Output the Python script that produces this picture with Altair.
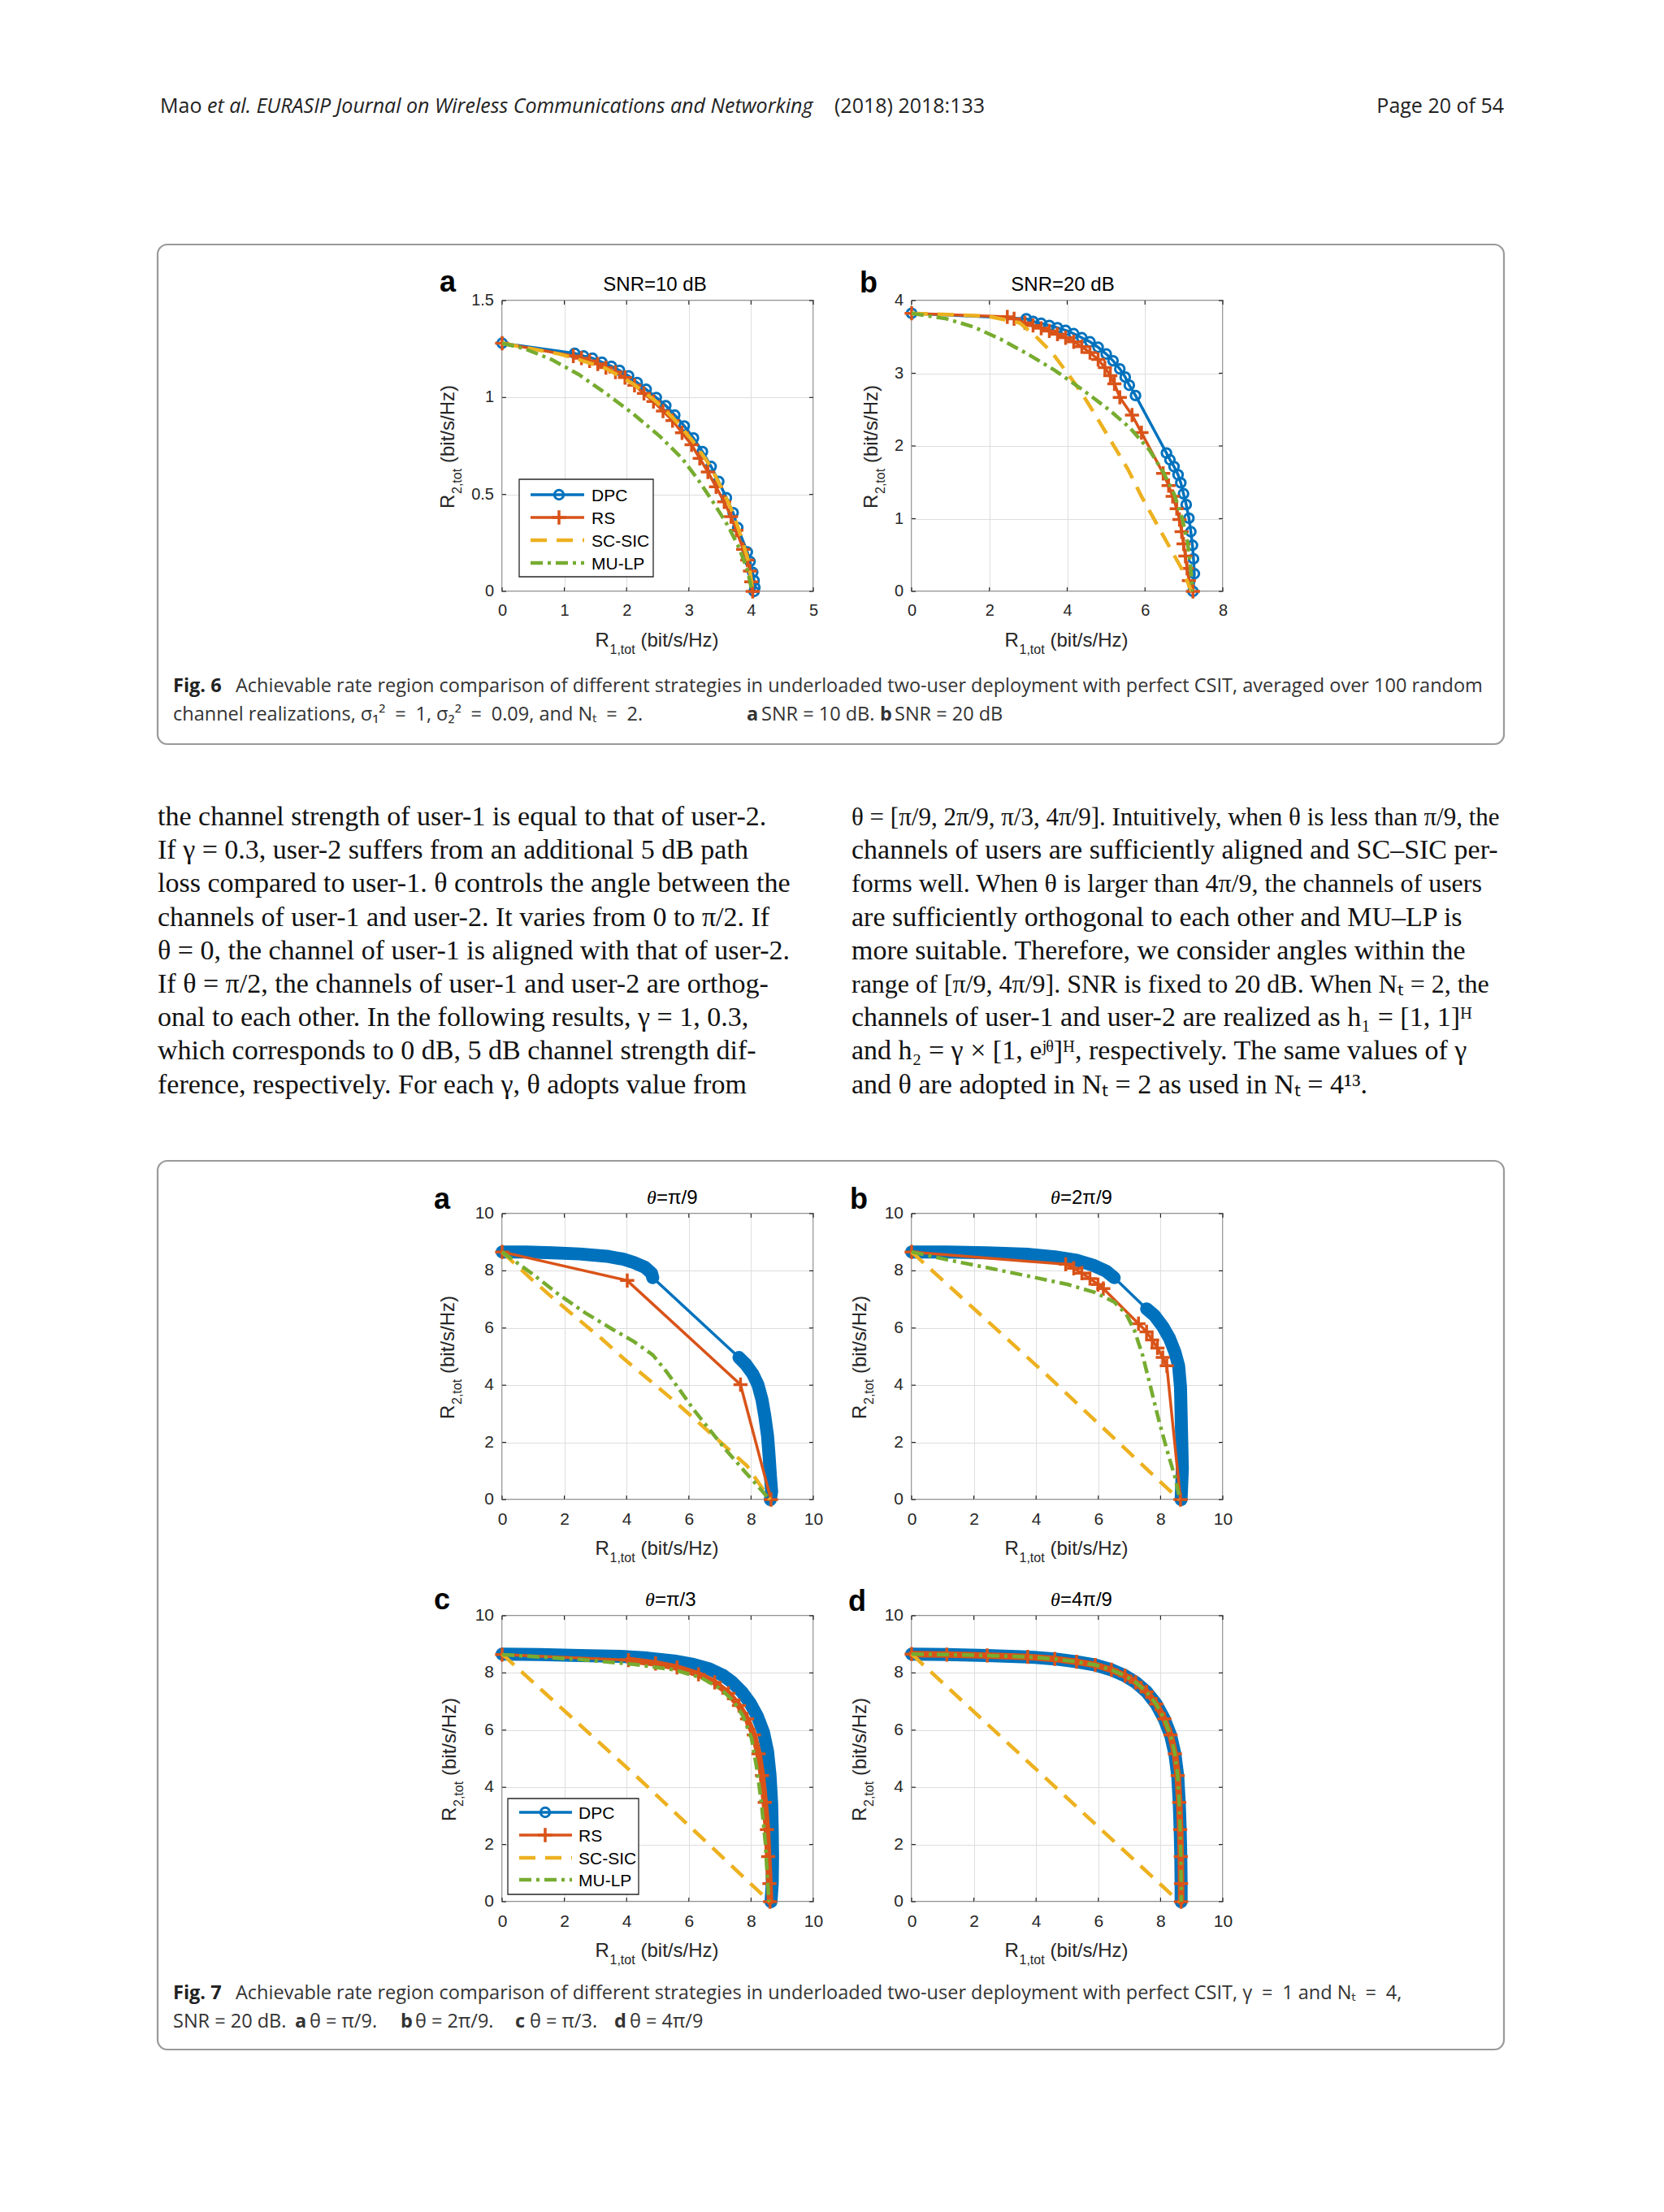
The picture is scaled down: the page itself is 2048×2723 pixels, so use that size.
import altair as alt
import pandas as pd

# ---------------- page text ----------------
HEADER_PLAIN = "Mao"
HEADER_ITALIC = "et al. EURASIP Journal on Wireless Communications and Networking"
HEADER_YEAR = "(2018) 2018:133"
HEADER_PAGE = "Page 20 of 54"

CAP6_BOLD = "Fig. 6"
CAP6_L1 = ("Achievable rate region comparison of different strategies in underloaded two-user "
           "deployment with perfect CSIT, averaged over 100 random")
CAP6_L2 = ["channel realizations, σ₁²\u2002=\u20021, σ₂²\u2002=\u20020.09, and Nₜ\u2002=\u20022.",
           "a", "SNR = 10 dB.", "b", "SNR = 20 dB"]
CAP7_BOLD = "Fig. 7"
CAP7_L1 = ("Achievable rate region comparison of different strategies in underloaded two-user "
           "deployment with perfect CSIT, γ\u2002=\u20021 and Nₜ\u2002=\u20024,")
CAP7_L2 = ["SNR = 20 dB.", "a", "θ = π/9.", "b", "θ = 2π/9.", "c", "θ = π/3.", "d", "θ = 4π/9"]

BODY_LEFT = [
    "the channel strength of user-1 is equal to that of user-2.",
    "If γ = 0.3, user-2 suffers from an additional 5 dB path",
    "loss compared to user-1. θ controls the angle between the",
    "channels of user-1 and user-2. It varies from 0 to π/2. If",
    "θ = 0, the channel of user-1 is aligned with that of user-2.",
    "If θ = π/2, the channels of user-1 and user-2 are orthog-",
    "onal to each other. In the following results, γ = 1, 0.3,",
    "which corresponds to 0 dB, 5 dB channel strength dif-",
    "ference, respectively. For each γ, θ adopts value from",
]
BODY_RIGHT = [
    "θ = [π/9, 2π/9, π/3, 4π/9]. Intuitively, when θ is less than π/9, the",
    "channels of users are sufficiently aligned and SC–SIC per-",
    "forms well. When θ is larger than 4π/9, the channels of users",
    "are sufficiently orthogonal to each other and MU–LP is",
    "more suitable. Therefore, we consider angles within the",
    "range of [π/9, 4π/9]. SNR is fixed to 20 dB. When Nₜ = 2, the",
    "channels of user-1 and user-2 are realized as h₁ = [1, 1]ᴴ",
    "and h₂ = γ × [1, eʲᶿ]ᴴ, respectively. The same values of γ",
    "and θ are adopted in Nₜ = 2 as used in Nₜ = 4¹³.",
]
BODY_RIGHT_SIZE = [31, 34, 32, 34, 34, 32, 34, 34, 34]

# ---------------- chart text ----------------
SERIES = ["DPC", "RS", "SC-SIC", "MU-LP"]
F6_TITLES = ["SNR=10 dB", "SNR=20 dB"]
F7_TITLES = ["=π/9", "=2π/9", "=π/3", "=4π/9"]
PANEL_LETTERS = ["a", "b", "c", "d"]
AXIS_R = "R"
AXIS_UNIT = "(bit/s/Hz)"
X_SUB = "1,tot"
Y_SUB = "2,tot"

# ---------------- ticks ----------------
F6A_XT = [0, 1, 2, 3, 4, 5]
F6A_YT = [0, 0.5, 1, 1.5]
F6A_YL = ["0", "0.5", "1", "1.5"]
F6B_XT = [0, 2, 4, 6, 8]
F6B_YT = [0, 1, 2, 3, 4]
F6B_YL = ["0", "1", "2", "3", "4"]
F7_XT = [0, 2, 4, 6, 8, 10]
F7_YT = [0, 2, 4, 6, 8, 10]
F7_YL = ["0", "2", "4", "6", "8", "10"]

# ---------------- Fig 6a (SNR = 10 dB) ----------------
F6A_DPC_X = [0, 1.166, 1.31, 1.45, 1.603, 1.755, 1.886, 2.031, 2.170, 2.314, 2.476, 2.629, 2.773, 2.926,
             3.074, 3.218, 3.358, 3.480, 3.603, 3.712, 3.786, 3.939, 3.983, 4.026, 4.048, 4.061, 4.048]
F6A_DPC_Y = [1.280, 1.228, 1.214, 1.203, 1.182, 1.161, 1.140, 1.112, 1.077, 1.042, 1.0, 0.958, 0.909, 0.853,
             0.791, 0.721, 0.644, 0.567, 0.483, 0.406, 0.329, 0.203, 0.154, 0.098, 0.056, 0.021, 0.0]
F6A_RS_X = [0, 1.144, 1.275, 1.406, 1.537, 1.668, 1.821, 1.974, 2.127, 2.279, 2.432, 2.585, 2.738,
            2.891, 3.044, 3.175, 3.306, 3.437, 3.568, 3.677, 3.764, 3.873, 3.939, 3.983, 4.004, 4.026]
F6A_RS_Y = [1.280, 1.214, 1.203, 1.189, 1.173, 1.154, 1.131, 1.103, 1.063, 1.021, 0.979, 0.930, 0.881,
            0.818, 0.756, 0.686, 0.616, 0.539, 0.462, 0.385, 0.315, 0.217, 0.161, 0.105, 0.049, 0.0]
F6A_SC_X = [0, 0.926, 1.231, 1.668, 2.105, 2.454, 2.760, 3.066, 3.328, 3.546, 3.721, 3.852, 3.961, 4.026]
F6A_SC_Y = [1.280, 1.224, 1.196, 1.150, 1.070, 0.985, 0.890, 0.775, 0.655, 0.520, 0.395, 0.270, 0.150, 0.0]
F6A_MU_X = [0, 0.358, 0.795, 1.231, 1.668, 2.105, 2.541, 2.891, 3.153, 3.415, 3.633, 3.808, 3.939, 4.017]
F6A_MU_Y = [1.280, 1.252, 1.196, 1.119, 1.021, 0.916, 0.798, 0.686, 0.574, 0.448, 0.336, 0.224, 0.112, 0.0]

# ---------------- Fig 6b (SNR = 20 dB) ----------------
F6B_DPC_X = [0, 2.948, 3.122, 3.331, 3.540, 3.749, 3.958, 4.167, 4.376, 4.585, 4.794, 5.003, 5.178, 5.352,
             5.491, 5.596, 5.756, 6.551, 6.641, 6.746, 6.850, 6.920, 6.990, 7.059, 7.129, 7.178, 7.220,
             7.247, 7.268, 7.233]
F6B_DPC_Y = [3.825, 3.750, 3.713, 3.687, 3.657, 3.627, 3.590, 3.545, 3.489, 3.433, 3.358, 3.265, 3.172, 3.060,
             2.948, 2.836, 2.694, 1.903, 1.810, 1.716, 1.604, 1.493, 1.343, 1.194, 1.007, 0.821, 0.634,
             0.448, 0.243, 0.0]
F6B_RS_X = [0, 2.460, 2.634, 2.913, 3.122, 3.331, 3.540, 3.749, 3.958, 4.167, 4.376, 4.585, 4.794, 4.969,
            5.108, 5.213, 5.352, 5.666, 5.909, 6.467, 6.606, 6.711, 6.815, 6.885, 6.941, 6.990, 7.038,
            7.080, 7.129, 7.233]
F6B_RS_Y = [3.825, 3.776, 3.750, 3.694, 3.657, 3.619, 3.582, 3.537, 3.489, 3.433, 3.366, 3.284, 3.190, 3.078,
            2.966, 2.854, 2.668, 2.425, 2.183, 1.623, 1.455, 1.306, 1.138, 0.989, 0.821, 0.653, 0.485,
            0.317, 0.149, 0.0]
F6B_SC_X = [0, 1.937, 2.774, 3.192, 3.610, 4.028, 4.376, 4.725, 5.143, 5.561, 5.909, 6.258, 6.606, 6.955, 7.199]
F6B_SC_Y = [3.825, 3.787, 3.694, 3.507, 3.284, 2.985, 2.724, 2.425, 2.052, 1.679, 1.306, 0.970, 0.634, 0.299, 0.0]
F6B_MU_X = [0, 0.892, 1.589, 2.286, 2.983, 3.679, 4.376, 5.073, 5.631, 6.118, 6.467, 6.746, 6.955, 7.094,
            7.164, 7.220]
F6B_MU_Y = [3.825, 3.750, 3.638, 3.470, 3.265, 3.041, 2.780, 2.500, 2.239, 1.940, 1.642, 1.343, 1.007, 0.672,
            0.373, 0.0]

# ---------------- Fig 7a (theta = pi/9) ----------------
F7A_DPC_X = [0, 0.76, 1.63, 2.49, 3.36, 3.88, 4.23, 4.58, 4.80, 4.84,
             7.61, 7.83, 8.05, 8.22, 8.35, 8.44, 8.53, 8.58, 8.62, 8.66, 8.62]
F7A_DPC_Y = [8.66, 8.66, 8.63, 8.59, 8.51, 8.41, 8.29, 8.13, 7.92, 7.76,
             4.97, 4.73, 4.40, 4.02, 3.50, 2.93, 2.22, 1.51, 0.85, 0.28, 0.0]
F7A_DPC_SEG = [1, 1, 1, 1, 1, 1, 1, 1, 1, 1, 2, 2, 2, 2, 2, 2, 2, 2, 2, 2, 2]
F7A_RS_X = [0, 4.02, 7.66, 8.64]
F7A_RS_Y = [8.66, 7.66, 4.02, 0.0]
F7A_SC_X = [0, 0.94, 1.63, 2.41, 3.19, 3.97, 4.75, 5.53, 6.31, 7.09, 7.87, 8.61]
F7A_SC_Y = [8.66, 7.71, 7.05, 6.34, 5.63, 4.87, 4.16, 3.45, 2.70, 1.94, 1.18, 0.0]
F7A_MU_X = [0, 0.94, 1.80, 2.67, 3.54, 4.23, 4.84, 5.27, 5.71, 6.14, 6.62, 7.18, 7.79, 8.60]
F7A_MU_Y = [8.66, 7.92, 7.19, 6.53, 5.96, 5.53, 5.06, 4.49, 3.83, 3.17, 2.51, 1.75, 0.99, 0.0]

# ---------------- Fig 7b (theta = 2pi/9) ----------------
F7B_DPC_X = [0, 1.13, 2.43, 3.73, 4.60, 5.30, 5.82, 6.25, 6.51,
             7.55, 7.81, 8.07, 8.29, 8.46, 8.58, 8.64, 8.66, 8.68, 8.70, 8.66]
F7B_DPC_Y = [8.66, 8.66, 8.63, 8.58, 8.49, 8.37, 8.20, 7.99, 7.76,
             6.67, 6.43, 6.05, 5.63, 5.16, 4.68, 3.93, 2.98, 2.03, 1.09, 0.0]
F7B_DPC_SEG = [1, 1, 1, 1, 1, 1, 1, 1, 1, 2, 2, 2, 2, 2, 2, 2, 2, 2, 2, 2]
F7B_RS_X = [0, 4.95, 5.21, 5.47, 5.73, 5.99, 6.16, 7.29, 7.55, 7.73, 7.90, 8.07, 8.20, 8.64]
F7B_RS_Y = [8.66, 8.23, 8.09, 7.92, 7.73, 7.52, 7.38, 6.15, 5.87, 5.58, 5.30, 4.97, 4.68, 0.0]
F7B_SC_X = [0, 4.34, 8.60]
F7B_SC_Y = [8.66, 4.36, 0.0]
F7B_MU_X = [0, 1.13, 2.43, 3.73, 5.03, 5.90, 6.51, 6.90, 7.16, 7.42, 7.68, 7.94, 8.20, 8.46, 8.62]
F7B_MU_Y = [8.66, 8.39, 8.11, 7.82, 7.52, 7.24, 6.91, 6.48, 5.91, 5.06, 3.93, 2.79, 1.75, 0.80, 0.0]

# ---------------- Fig 7c (theta = pi/3) ----------------
F7C_DPC_X = [0, 1.20, 2.50, 3.80, 4.67, 5.53, 6.14, 6.66, 7.09, 7.40, 7.70, 7.96, 8.20, 8.40, 8.53,
             8.61, 8.66, 8.68, 8.69, 8.68, 8.64]
F7C_DPC_Y = [8.66, 8.64, 8.61, 8.58, 8.52, 8.42, 8.30, 8.14, 7.92, 7.67, 7.34, 6.96, 6.49, 5.92, 5.26,
             4.41, 3.47, 2.52, 1.58, 0.63, 0.0]
F7C_DPC_SEG = [1, 1, 1, 1, 1, 1, 1, 1, 1, 1, 1, 1, 1, 1, 1, 1, 1, 1, 1, 1, 1]
F7C_RS_X = [0, 4.06, 4.93, 5.62, 6.31, 6.83, 7.27, 7.61, 7.87, 8.09, 8.24, 8.35, 8.44, 8.51, 8.55, 8.59, 8.61]
F7C_RS_Y = [8.64, 8.45, 8.33, 8.19, 7.95, 7.67, 7.29, 6.86, 6.39, 5.83, 5.17, 4.41, 3.47, 2.52, 1.58, 0.63, 0.0]
F7C_RS_SEG = [0, 1, 1, 1, 1, 1, 1, 1, 1, 1, 1, 1, 1, 1, 1, 1, 1]
F7C_SC_X = [0, 4.30, 8.60]
F7C_SC_Y = [8.66, 4.40, 0.0]
F7C_MU_X = [0, 2.50, 4.23, 5.53, 6.40, 7.01, 7.44, 7.74, 8.01, 8.18, 8.33, 8.46, 8.57]
F7C_MU_Y = [8.64, 8.47, 8.30, 8.11, 7.83, 7.45, 7.01, 6.49, 5.73, 4.69, 3.47, 2.05, 0.0]

# ---------------- Fig 7d (theta = 4pi/9) ----------------
F7D_DPC_X = [0, 1.13, 2.43, 3.73, 4.60, 5.30, 5.90, 6.42, 6.86, 7.20, 7.55, 7.86, 8.12, 8.32, 8.46,
             8.55, 8.60, 8.63, 8.65, 8.66, 8.66]
F7D_DPC_Y = [8.66, 8.64, 8.61, 8.56, 8.49, 8.39, 8.28, 8.11, 7.90, 7.67, 7.34, 6.91, 6.39, 5.83, 5.17,
             4.41, 3.47, 2.52, 1.58, 0.63, 0.0]
F7D_DPC_SEG = [1, 1, 1, 1, 1, 1, 1, 1, 1, 1, 1, 1, 1, 1, 1, 1, 1, 1, 1, 1, 1]
F7D_RS_X = [0, 1.13, 2.43, 3.73, 4.60, 5.30, 5.90, 6.42, 6.86, 7.20, 7.55, 7.86, 8.12, 8.32, 8.46,
            8.55, 8.60, 8.63, 8.65, 8.66, 8.66]
F7D_RS_Y = [8.66, 8.64, 8.61, 8.56, 8.49, 8.39, 8.28, 8.11, 7.90, 7.67, 7.34, 6.91, 6.39, 5.83, 5.17,
            4.41, 3.47, 2.52, 1.58, 0.63, 0.0]
F7D_RS_SEG = [1, 1, 1, 1, 1, 1, 1, 1, 1, 1, 1, 1, 1, 1, 1, 1, 1, 1, 1, 1, 1]
F7D_SC_X = [0, 3.99, 8.60]
F7D_SC_Y = [8.66, 4.64, 0.0]
F7D_MU_X = [0, 1.13, 2.43, 3.73, 4.60, 5.30, 5.90, 6.42, 6.86, 7.20, 7.55, 7.86, 8.12, 8.32, 8.46,
            8.55, 8.60, 8.63, 8.65, 8.66, 8.66]
F7D_MU_Y = [8.66, 8.64, 8.61, 8.56, 8.49, 8.39, 8.28, 8.11, 7.90, 7.67, 7.34, 6.91, 6.39, 5.83, 5.17,
            4.41, 3.47, 2.52, 1.58, 0.63, 0.0]

# ---------------- style ----------------
BLUE, ORANGE, YELLOW, GREEN = "#0072BD", "#D95319", "#EDB120", "#77AC30"
COLORS = [BLUE, ORANGE, YELLOW, GREEN]
DASH_SC = [20, 12]
DASH_MU = [15, 6, 4, 6]
INK = "#262626"
GRID = "#dedede"
SANS = "Liberation Sans"
SERIF = "Liberation Serif"
CAPF = "Open Sans"
CROSS = "M-1,0L1,0M0,-1L0,1"
W = 383
H6 = 358
H7 = 352
LAB = 24      # axis label size
TIT = 24      # title size
CAPS = 23.5   # caption size
CIRC = 130    # circle marker area
CIRC_SW = 3
CROSS_SZ = 300
CROSS_SW = 3.5
LW = 3.5

ONE = pd.DataFrame({"k": [0]})


def T(s, x, y, size, font=SANS, weight="normal", style="normal", align="left", angle=0, color="#000000"):
    kw = dict(text=s, font=font, fontSize=size, fontWeight=weight, fontStyle=style,
              align=align, baseline="alphabetic", color=color)
    if angle:
        kw["angle"] = angle
    return alt.Chart(ONE).mark_text(**kw).encode(x=alt.value(x), y=alt.value(y))


def RECT(x1, y1, x2, y2, fill="transparent", stroke=None, sw=1.0, radius=0):
    kw = dict(fill=fill)
    if stroke:
        kw.update(stroke=stroke, strokeWidth=sw)
    if radius:
        kw["cornerRadius"] = radius
    return alt.Chart(ONE).mark_rect(**kw).encode(
        x=alt.value(x1), x2=alt.value(x2), y=alt.value(y1), y2=alt.value(y2))


def HLINE(x1, x2, y, color, sw, dash=None):
    kw = dict(color=color, strokeWidth=sw)
    if dash:
        kw["strokeDash"] = dash
    return alt.Chart(ONE).mark_rule(**kw).encode(x=alt.value(x1), x2=alt.value(x2), y=alt.value(y))


def MARK(x, y, shape, color, size, sw):
    return alt.Chart(ONE).mark_point(shape=shape, filled=False, color=color, size=size,
                                     strokeWidth=sw, opacity=1).encode(x=alt.value(x), y=alt.value(y))


def frame(xs, ys, seg=None):
    d = pd.DataFrame({"x": xs, "y": ys})
    d["i"] = list(range(len(xs)))
    if seg is not None:
        d["seg"] = seg
    return d


def curves(xdom, ydom, xt, yt, yl, tsize, h, dpc, rs, sc, mu, seg=None, rs_seg=None):
    X = alt.X("x:Q", title=None, scale=alt.Scale(domain=xdom, nice=False, zero=False),
              axis=alt.Axis(values=xt, format="~f", grid=True, gridColor=GRID, gridWidth=1,
                            domain=False, ticks=False, tickSize=0, labelFont=SANS, labelAngle=0,
                            labelFontSize=tsize, labelColor=INK, labelPadding=13,
                            labelFlush=False, labelOverlap=False, labelBaseline="top"))
    Y = alt.Y("y:Q", title=None, scale=alt.Scale(domain=ydom, nice=False, zero=False),
              axis=alt.Axis(values=yt, grid=True, gridColor=GRID, gridWidth=1,
                            domain=False, ticks=False, tickSize=0, labels=False))
    O = alt.Order("i:Q")
    out = []
    # y tick labels, placed through the y scale
    dyl = pd.DataFrame({"y": yt, "lab": yl})
    out.append(alt.Chart(dyl).mark_text(align="right", baseline="middle", font=SANS, fontSize=tsize,
                                        color=INK).encode(Y, x=alt.value(-10), text="lab:N"))
    # MATLAB-style inward tick marks on all four sides
    dxt = pd.DataFrame({"x": xt})
    dyt = pd.DataFrame({"y": yt})
    out.append(alt.Chart(dxt).mark_rule(color=INK, strokeWidth=1.2).encode(
        X, y=alt.value(h), y2=alt.value(h - 5)))
    out.append(alt.Chart(dxt).mark_rule(color=INK, strokeWidth=1.2).encode(
        X, y=alt.value(0), y2=alt.value(5)))
    out.append(alt.Chart(dyt).mark_rule(color=INK, strokeWidth=1.2).encode(
        Y, x=alt.value(0), x2=alt.value(5)))
    out.append(alt.Chart(dyt).mark_rule(color=INK, strokeWidth=1.2).encode(
        Y, x=alt.value(W - 5), x2=alt.value(W)))

    dd = frame(dpc[0], dpc[1], seg)
    if seg is not None:
        out.append(alt.Chart(dd).mark_line(color=BLUE, strokeWidth=16, strokeCap="round",
                                           strokeJoin="round").encode(X, Y, O, detail="seg:N"))
    out.append(alt.Chart(dd).mark_line(color=BLUE, strokeWidth=LW).encode(X, Y, O))
    out.append(alt.Chart(dd).mark_point(shape="circle", filled=False, size=CIRC, strokeWidth=CIRC_SW,
                                        color=BLUE, opacity=1).encode(X, Y))
    dr = frame(rs[0], rs[1], rs_seg)
    if rs_seg is not None:
        out.append(alt.Chart(dr).transform_filter("datum.seg == 1").mark_line(
            color=ORANGE, strokeWidth=8, strokeCap="round", strokeJoin="round").encode(X, Y, O))
    out.append(alt.Chart(dr).mark_line(color=ORANGE, strokeWidth=LW).encode(X, Y, O))
    out.append(alt.Chart(dr).mark_point(shape=CROSS, filled=False, size=CROSS_SZ, strokeWidth=CROSS_SW,
                                        color=ORANGE, opacity=1).encode(X, Y))
    out.append(alt.Chart(frame(sc[0], sc[1])).mark_line(color=YELLOW, strokeWidth=4.5,
                                                        strokeDash=DASH_SC).encode(X, Y, O))
    out.append(alt.Chart(frame(mu[0], mu[1])).mark_line(color=GREEN, strokeWidth=4.5,
                                                        strokeDash=DASH_MU).encode(X, Y, O))
    return out


def axis_titles(h, ylab_x):
    cx = W / 2.0
    cy = h / 2.0
    return [
        T(AXIS_R, cx - 77, h + 68, LAB, color=INK),
        T(X_SUB, cx - 59, h + 77, 16, color=INK),
        T(AXIS_UNIT, cx - 21, h + 68, LAB, color=INK),
        T(AXIS_R, ylab_x, cy + 77, LAB, angle=270, color=INK),
        T(Y_SUB, ylab_x + 9, cy + 59, 16, angle=270, color=INK),
        T(AXIS_UNIT, ylab_x, cy + 21, LAB, angle=270, color=INK),
    ]


def legend(box, rows, lx, mx, tx, fsize=21):
    out = [RECT(box[0], box[1], box[2], box[3], fill="white", stroke=INK, sw=1.3)]
    dashes = [None, None, DASH_SC, DASH_MU]
    widths = [LW, LW, 4.5, 4.5]
    for k, name in enumerate(SERIES):
        y = rows[k]
        out.append(HLINE(lx[0], lx[1], y, COLORS[k], widths[k], dashes[k]))
        if k == 0:
            out.append(MARK(mx, y, "circle", BLUE, CIRC, CIRC_SW))
        if k == 1:
            out.append(MARK(mx, y, CROSS, ORANGE, CROSS_SZ, CROSS_SW))
        out.append(T(name, tx, y + 7.5, fsize, color="#000000"))
    return out


def f7_title(left, k):
    return [T("θ", left, -12, TIT, font=SERIF, style="italic"),
            T(F7_TITLES[k], left + 12, -12, TIT)]


# ---------------- panels ----------------
p6a = alt.layer(
    *curves([0, 5], [0, 1.5], F6A_XT, F6A_YT, F6A_YL, 20, H6,
            (F6A_DPC_X, F6A_DPC_Y), (F6A_RS_X, F6A_RS_Y), (F6A_SC_X, F6A_SC_Y), (F6A_MU_X, F6A_MU_Y)),
    *legend((21, 220, 186, 340), [239, 267, 295, 323], (35, 101), 70, 110),
    *axis_titles(H6, -59),
    T(PANEL_LETTERS[0], -77, -11, 36, weight="bold"),
    T(F6_TITLES[0], 188, -12, TIT, align="center"),
).properties(width=W, height=H6)

p6b = alt.layer(
    *curves([0, 8], [0, 4], F6B_XT, F6B_YT, F6B_YL, 20, H6,
            (F6B_DPC_X, F6B_DPC_Y), (F6B_RS_X, F6B_RS_Y), (F6B_SC_X, F6B_SC_Y), (F6B_MU_X, F6B_MU_Y)),
    *axis_titles(H6, -42),
    T(PANEL_LETTERS[1], -64, -10, 36, weight="bold"),
    T(F6_TITLES[1], 186, -12, TIT, align="center"),
).properties(width=W, height=H6)

p7a = alt.layer(
    *curves([0, 10], [0, 10], F7_XT, F7_YT, F7_YL, 21, H7,
            (F7A_DPC_X, F7A_DPC_Y), (F7A_RS_X, F7A_RS_Y), (F7A_SC_X, F7A_SC_Y), (F7A_MU_X, F7A_MU_Y),
            seg=F7A_DPC_SEG),
    *axis_titles(H7, -59),
    T(PANEL_LETTERS[0], -84, -6, 36, weight="bold"),
    *f7_title(178, 0),
).properties(width=W, height=H7)

p7b = alt.layer(
    *curves([0, 10], [0, 10], F7_XT, F7_YT, F7_YL, 21, H7,
            (F7B_DPC_X, F7B_DPC_Y), (F7B_RS_X, F7B_RS_Y), (F7B_SC_X, F7B_SC_Y), (F7B_MU_X, F7B_MU_Y),
            seg=F7B_DPC_SEG),
    *axis_titles(H7, -56),
    T(PANEL_LETTERS[1], -76, -6, 36, weight="bold"),
    *f7_title(171, 1),
).properties(width=W, height=H7)

p7c = alt.layer(
    *curves([0, 10], [0, 10], F7_XT, F7_YT, F7_YL, 21, H7,
            (F7C_DPC_X, F7C_DPC_Y), (F7C_RS_X, F7C_RS_Y), (F7C_SC_X, F7C_SC_Y), (F7C_MU_X, F7C_MU_Y),
            seg=F7C_DPC_SEG, rs_seg=F7C_RS_SEG),
    *legend((7, 225, 168, 343), [242, 270, 298, 325], (21, 86), 53, 94),
    *axis_titles(H7, -57),
    T(PANEL_LETTERS[2], -84, -8, 36, weight="bold"),
    *f7_title(176, 2),
).properties(width=W, height=H7)

p7d = alt.layer(
    *curves([0, 10], [0, 10], F7_XT, F7_YT, F7_YL, 21, H7,
            (F7D_DPC_X, F7D_DPC_Y), (F7D_RS_X, F7D_RS_Y), (F7D_SC_X, F7D_SC_Y), (F7D_MU_X, F7D_MU_Y),
            seg=F7D_DPC_SEG, rs_seg=F7D_RS_SEG),
    *axis_titles(H7, -56),
    T(PANEL_LETTERS[3], -78, -6, 36, weight="bold"),
    *f7_title(171, 3),
).properties(width=W, height=H7)

# ---------------- page decorations (spacer cell, origin at page 617, 870) ----------------
OX, OY = 617, 870


def P(x, y):
    return x - OX, y - OY


deco = []
ax1, ay1 = P(8, 8)
ax2, ay2 = P(2030, 2700)
deco.append(RECT(ax1, ay1, ax1 + 1, ay1 + 1, fill="white"))
deco.append(RECT(ax2, ay2, ax2 + 1, ay2 + 1, fill="white"))
# figure boxes
bx1, by1 = P(193, 300)
bx2, by2 = P(1850, 915)
deco.append(RECT(bx1, by1, bx2, by2, fill="transparent", stroke="#9a9a9a", sw=2.2, radius=12))
bx1, by1 = P(193, 1428)
bx2, by2 = P(1850, 2522)
deco.append(RECT(bx1, by1, bx2, by2, fill="transparent", stroke="#9a9a9a", sw=2.2, radius=12))
# header
hx, hy = P(196, 138)
deco.append(T(HEADER_PLAIN, hx, hy, 25, font=CAPF, color="#222222"))
hx, hy = P(254, 138)
deco.append(T(HEADER_ITALIC, hx, hy, 25, font=CAPF, style="italic", color="#222222"))
hx, hy = P(1026, 138)
deco.append(T(HEADER_YEAR, hx, hy, 25, font=CAPF, color="#222222"))
hx, hy = P(1850, 138)
deco.append(T(HEADER_PAGE, hx, hy, 25, font=CAPF, align="right", color="#222222"))
# fig 6 caption
cx, cy = P(212, 851)
deco.append(T(CAP6_BOLD, cx, cy, CAPS, font=CAPF, weight="bold", color="#222222"))
cx, cy = P(289, 851)
deco.append(T(CAP6_L1, cx, cy, CAPS, font=CAPF, color="#333333"))
for seg_text, px, bold in zip(CAP6_L2, [212, 918, 936, 1082, 1100], [0, 1, 0, 1, 0]):
    cx, cy = P(px, 886)
    deco.append(T(seg_text, cx, cy, CAPS, font=CAPF, weight="bold" if bold else "normal", color="#333333"))
# fig 7 caption
cx, cy = P(212, 2460)
deco.append(T(CAP7_BOLD, cx, cy, CAPS, font=CAPF, weight="bold", color="#222222"))
cx, cy = P(289, 2460)
deco.append(T(CAP7_L1, cx, cy, CAPS, font=CAPF, color="#333333"))
for seg_text, px, bold in zip(CAP7_L2, [212, 362, 380, 492, 510, 633, 651, 755, 774],
                              [0, 1, 0, 1, 0, 1, 0, 1, 0]):
    cx, cy = P(px, 2495)
    deco.append(T(seg_text, cx, cy, CAPS, font=CAPF, weight="bold" if bold else "normal", color="#333333"))
# body text
for k, line in enumerate(BODY_LEFT):
    lx, ly = P(193, 1015 + 41.2 * k)
    deco.append(T(line, lx, ly, 34, font=SERIF, color="#111111"))
for k, line in enumerate(BODY_RIGHT):
    lx, ly = P(1047, 1015 + 41.2 * k)
    deco.append(T(line, lx, ly, BODY_RIGHT_SIZE[k], font=SERIF, color="#111111"))

spacer1 = alt.layer(*deco).properties(width=W, height=480,
                                       view=alt.ViewBackground(stroke="transparent"))
spacer2 = alt.Chart(ONE).mark_point(opacity=0).encode(
    x=alt.value(0), y=alt.value(0)).properties(width=W, height=480,
                                               view=alt.ViewBackground(stroke="transparent"))

chart = alt.concat(
    p6a, p6b, spacer1, spacer2, p7a, p7b, p7c, p7d,
    columns=2, spacing={"row": 143, "column": 121}, bounds="flush", align="each",
).properties(padding=0, background="white").configure_view(stroke=INK, strokeWidth=1.3)

chart.save("out.html", embed_options={"renderer": "svg", "actions": False})
